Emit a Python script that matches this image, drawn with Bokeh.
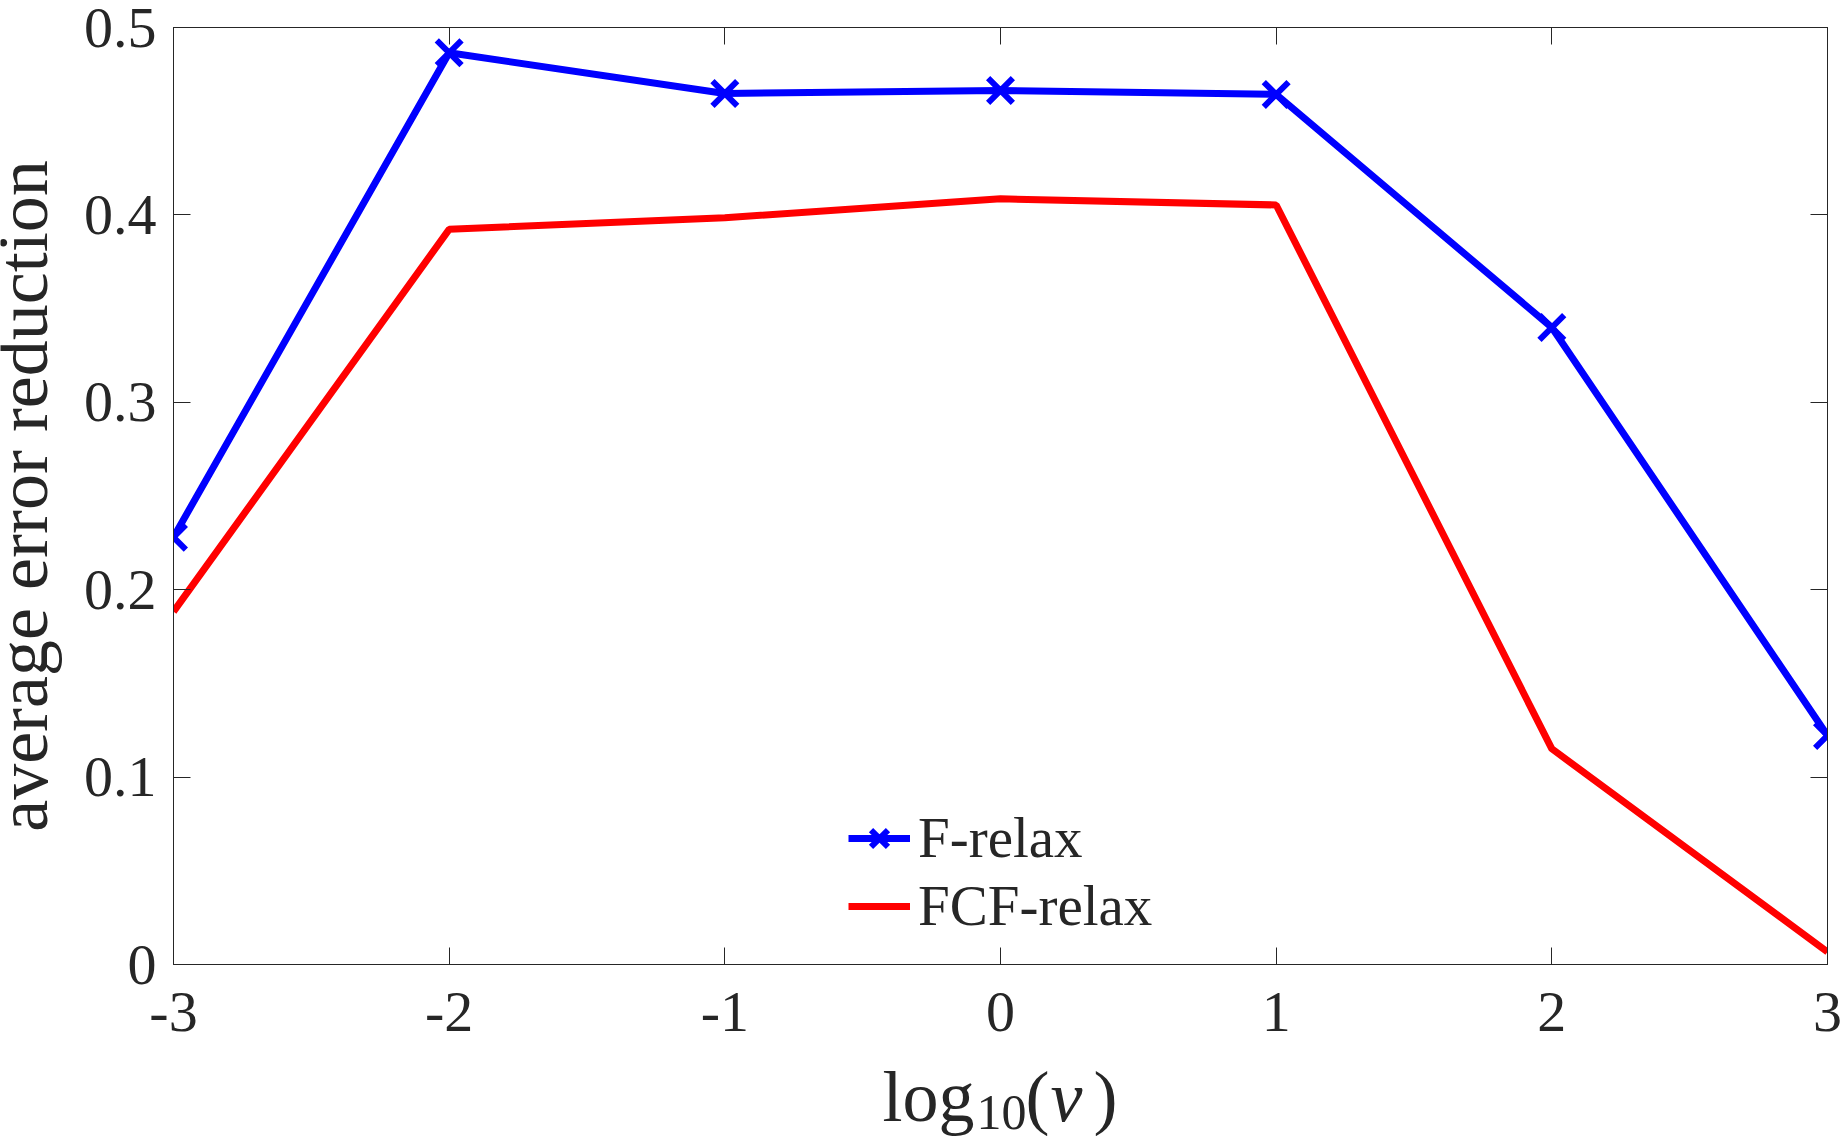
import math

from bokeh.plotting import figure
from bokeh.layouts import row, column
from bokeh.models import (Range1d, FixedTicker, CustomJSTickFormatter, LinearAxis,
                          Legend, LegendItem, Label)
from bokeh.embed import file_html
from bokeh.resources import INLINE

# log10 of the viscosity parameter
log_nu = [-3, -2, -1, 0, 1, 2, 3]
# average error reduction per relaxation scheme
f_relax = [0.228, 0.4865, 0.4648, 0.4664, 0.4643, 0.3399, 0.1222]
fcf_relax = [0.1883, 0.3923, 0.3985, 0.4086, 0.4053, 0.1151, 0.0067]

x_ticks = [-3, -2, -1, 0, 1, 2, 3]
y_ticks = [0, 0.1, 0.2, 0.3, 0.4, 0.5]

series_names = ["F-relax", "FCF-relax"]
y_label = "average error reduction"

FONT = "Liberation Serif"
INK = "#262626"
BLUE = "#0000ff"
RED = "#ff0000"

# page geometry: a narrow strip for the y title, the axes, a strip for the x title
TOTAL_W, TOTAL_H = 1846, 1136
YSTRIP_W = 80
XSTRIP_H = 78
MAIN_W = TOTAL_W - YSTRIP_W
MAIN_H = TOTAL_H - XSTRIP_H

x_range = Range1d(x_ticks[0], x_ticks[-1])
y_range = Range1d(y_ticks[0], y_ticks[-1])

p = figure(width=MAIN_W, height=MAIN_H, x_range=x_range, y_range=y_range,
           output_backend="svg", toolbar_location=None,
           min_border_left=93, min_border_right=19,
           min_border_top=27, min_border_bottom=94)

p.background_fill_color = "white"
p.border_fill_color = "white"
p.outline_line_color = INK
p.outline_line_width = 1
p.xgrid.visible = False
p.ygrid.visible = False

num_fmt = CustomJSTickFormatter(code="return (Math.round(tick * 10) / 10).toString();")
blank_fmt = CustomJSTickFormatter(code="return '';")


def style_axis(ax, ticks, fmt, standoff, size):
    ax.ticker = FixedTicker(ticks=ticks)
    ax.formatter = fmt
    ax.axis_line_color = INK
    ax.axis_line_width = 1
    ax.major_tick_line_color = INK
    ax.major_tick_line_width = 1
    ax.major_tick_in = 17
    ax.major_tick_out = 0
    ax.minor_tick_line_color = None
    ax.major_label_standoff = standoff
    ax.major_label_text_font = FONT
    ax.major_label_text_font_size = size
    ax.major_label_text_color = INK


style_axis(p.xaxis[0], x_ticks, num_fmt, 28, "58px")
style_axis(p.yaxis[0], y_ticks, num_fmt, 17, "58px")

top_axis = LinearAxis()
right_axis = LinearAxis()
style_axis(top_axis, x_ticks, blank_fmt, 0, "0px")
style_axis(right_axis, y_ticks, blank_fmt, 0, "0px")
p.add_layout(top_axis, "above")
p.add_layout(right_axis, "right")

# data series
r_blue = p.line(log_nu, f_relax, line_color=BLUE, line_width=7)
m_blue = p.scatter(log_nu, f_relax, marker="x", size=35, line_color=BLUE, line_width=6)
r_red = p.line(log_nu, fcf_relax, line_color=RED, line_width=7)

legend = Legend(items=[LegendItem(label=series_names[0], renderers=[r_blue, m_blue]),
                       LegendItem(label=series_names[1], renderers=[r_red])],
                location=(675, 26), padding=0, margin=0, spacing=3,
                glyph_width=62, glyph_height=60, label_height=60, label_standoff=8,
                label_text_font=FONT, label_text_font_size="57px", label_text_color=INK,
                border_line_alpha=0, background_fill_alpha=0)
p.add_layout(legend)


def blank_strip(width, height, xr=None):
    f = figure(width=width, height=height, output_backend="svg", toolbar_location=None,
               x_range=xr if xr is not None else Range1d(0, 1), y_range=Range1d(0, 1),
               x_axis_location=None, y_axis_location=None,
               min_border_left=0, min_border_right=0, min_border_top=0, min_border_bottom=0)
    f.outline_line_color = None
    f.xgrid.visible = False
    f.ygrid.visible = False
    f.background_fill_color = "white"
    f.border_fill_color = "white"
    return f


# y axis title strip
ystrip = blank_strip(YSTRIP_W, TOTAL_H)
ystrip.add_layout(Label(x=22, y=TOTAL_H - 495.5, x_units="screen", y_units="screen",
                        angle=math.pi / 2, text=y_label, text_align="center",
                        text_baseline="alphabetic", text_font=FONT,
                        text_font_size="72px", text_color=INK))

# x axis title strip: log_10(nu), aligned with the axes' frame
xstrip = blank_strip(MAIN_W, XSTRIP_H, x_range)
xstrip.min_border_left = 93
xstrip.min_border_right = 19
pieces = [
    ("log", -118, 40, "72px", "normal"),
    ("10", -24, 24, "50px", "normal"),
    ("(", 25, 40, "72px", "normal"),
    ("\u03bd", 50, 40, "72px", "italic"),
    (")", 93, 40, "72px", "normal"),
]
for txt, dx, yy, fs, style in pieces:
    xstrip.add_layout(Label(x=0, x_units="data", y=yy, y_units="screen", x_offset=dx,
                            text=txt, text_align="left", text_baseline="alphabetic",
                            text_font=FONT, text_font_size=fs, text_font_style=style,
                            text_color=INK))

layout = row(ystrip, column(p, xstrip, spacing=0), spacing=0)

open("out.html", "w").write(file_html(layout, INLINE))
